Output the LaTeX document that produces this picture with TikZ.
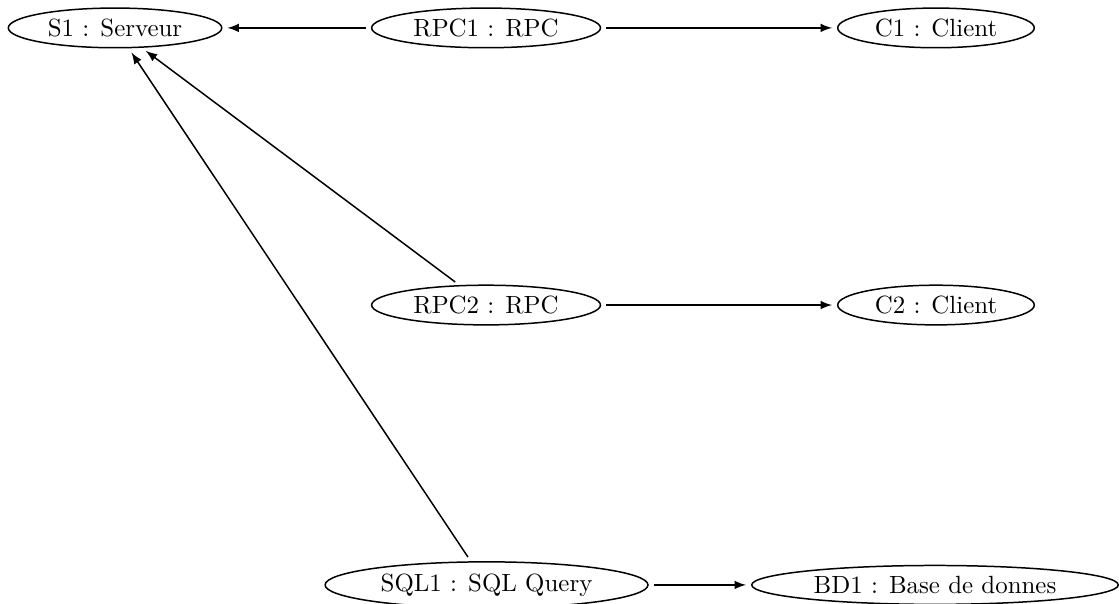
\documentclass[tikz,border=0pt]{standalone}
\usetikzlibrary{shapes.geometric,arrows}
\tikzset{
  obj/.style={ellipse, draw, semithick, inner xsep=3.33pt, inner ysep=2pt},
  link/.style={-latex, semithick, shorten >=2pt, shorten <=2pt}
}
\begin{document}
\begin{tikzpicture}[x=1pt,y=1pt]
  \useasboundingbox (0,0) rectangle (449.4,-242.2);
  % objects, three columns
  \node[obj] (S1)   at (46.2,-11.2)   {S1 : Serveur};
  \node[obj] (RPC1) at (195.2,-11.2)  {RPC1 : RPC};
  \node[obj] (C1)   at (375.9,-11.2)  {C1 : Client};
  \node[obj] (RPC2) at (195.2,-122.5) {RPC2 : RPC};
  \node[obj] (C2)   at (375.9,-122.5) {C2 : Client};
  \node[obj] (SQL1) at (195.4,-234.9) {SQL1 : SQL Query};
  \node[obj] (BD1)  at (375.5,-234.9) {BD1 : Base de donnes};
  % links
  \draw[link] (RPC1) -- (S1);
  \draw[link] (RPC1) -- (C1);
  \draw[link] (RPC2) -- (S1);
  \draw[link] (RPC2) -- (C2);
  \draw[link] (SQL1) -- (S1);
  \draw[link] (SQL1) -- (BD1);
\end{tikzpicture}
\end{document}
